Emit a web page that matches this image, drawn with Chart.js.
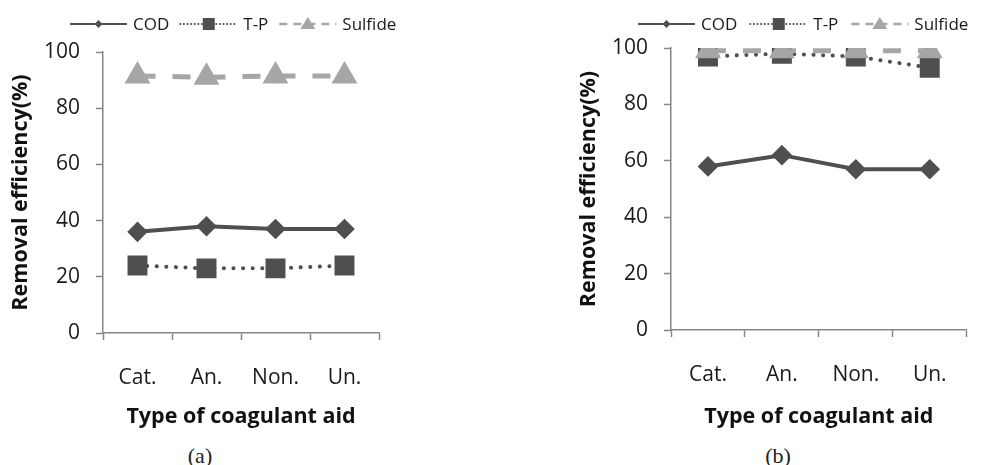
<!DOCTYPE html>
<html>
<head>
<meta charset="utf-8">
<script src="https://cdn.jsdelivr.net/npm/chart.js@4/dist/chart.umd.min.js"></script>
<style>
  html, body { margin: 0; padding: 0; background: #fff; }
  body { width: 982px; height: 465px; position: relative; overflow: hidden; }
  canvas { position: absolute; top: 0; }
  #chartA { left: 0; }
  #chartB { left: 568px; }
  .caption {
    position: absolute; top: 443px; transform: translateX(-50%);
    font-family: "Liberation Serif", "DejaVu Serif", serif; font-size: 22px; color: #222;
  }
</style>
</head>
<body>
<canvas id="chartA" width="400" height="440"></canvas>
<canvas id="chartB" width="414" height="440"></canvas>
<div class="caption" style="left:200px">(a)</div>
<div class="caption" style="left:778px">(b)</div>
<script>
const categories = ['Cat.', 'An.', 'Non.', 'Un.'];
const seriesNames = ['COD', 'T-P', 'Sulfide'];

// (a)
const codA = [36, 38, 37, 37];
const tpA = [24, 23, 23, 24];
const sulfideA = [91.5, 91, 91.5, 91.5];

// (b)
const codB = [58, 62, 57, 57];
const tpB = [97, 98, 97, 93];
const sulfideB = [99, 99, 99, 99];

const yMin = 0, yMax = 100, yStep = 20;

const dark = '#4f4f4f';
const light = '#a6a6a6';
const axisColor = '#868686';
const textColor = '#1a1a1a';
const family = '"Open Sans", "Noto Sans", sans-serif';

// legend drawn by hand: line sample + marker + label
const lineLegend = {
    id: 'lineLegend',
    afterDraw(chart, args, opts) {
        const ctx = chart.ctx;
        const y = 24;
        let x = chart.chartArea.left - 33;
        ctx.save();
        ctx.font = '17px ' + family;
        ctx.textBaseline = 'middle';
        chart.data.datasets.forEach(ds => {
            const len = opts.lineLen;
            ctx.strokeStyle = ds.borderColor;
            ctx.fillStyle = ds.borderColor;
            ctx.lineWidth = ds.legendWidth;
            ctx.lineCap = ds.borderCapStyle || 'butt';
            ctx.setLineDash(ds.legendDash);
            ctx.beginPath();
            ctx.moveTo(x, y);
            ctx.lineTo(x + len, y);
            ctx.stroke();
            ctx.setLineDash([]);

            const cx = x + len / 2;
            ctx.beginPath();
            if (ds.pointStyle === 'rectRot') {
                const r = 4;
                ctx.moveTo(cx, y - r); ctx.lineTo(cx + r, y); ctx.lineTo(cx, y + r); ctx.lineTo(cx - r, y);
            } else if (ds.pointStyle === 'rect') {
                ctx.rect(cx - 6, y - 6, 12, 12);
            } else {
                ctx.moveTo(cx, y - 7); ctx.lineTo(cx + 7.5, y + 5); ctx.lineTo(cx - 7.5, y + 5);
            }
            ctx.closePath();
            ctx.fill();

            ctx.fillStyle = textColor;
            ctx.fillText(ds.label, x + len + 6, y + 1);
            x += len + 6 + ctx.measureText(ds.label).width + opts.gap;
        });
        ctx.restore();
    }
};

function buildDatasets(cod, tp, sulfide) {
    return [
        {
            label: seriesNames[0], data: cod,
            borderColor: dark, backgroundColor: dark, borderWidth: 4,
            pointStyle: 'rectRot', pointRadius: 7.5, pointHoverRadius: 7.5,
            legendDash: [], legendWidth: 2, order: 2
        },
        {
            label: seriesNames[1], data: tp,
            borderColor: dark, backgroundColor: dark, borderWidth: 4,
            borderDash: [0.1, 9.5], borderCapStyle: 'round',
            pointStyle: 'rect', pointRadius: 11.3, pointHoverRadius: 11.3,
            legendDash: [0.1, 3.5], legendWidth: 2, order: 1
        },
        {
            label: seriesNames[2], data: sulfide,
            borderColor: light, backgroundColor: light, borderWidth: 5,
            borderDash: [18, 17],
            pointStyle: 'triangle', pointRadius: 10, pointHoverRadius: 10,
            legendDash: [8, 6], legendWidth: 2.5, order: 0
        }
    ];
}

function makeChart(id, cod, tp, sulfide, area) {
    const ctx = document.getElementById(id).getContext('2d');
    return new Chart(ctx, {
        type: 'line',
        data: { labels: categories, datasets: buildDatasets(cod, tp, sulfide) },
        options: {
            responsive: false,
            animation: false,
            layout: { padding: { top: area.top, right: area.right, left: 0, bottom: 0 } },
            plugins: {
                legend: { display: false },
                tooltip: { enabled: false },
                lineLegend: { lineLen: area.lineLen, gap: area.gap }
            },
            scales: {
                x: {
                    offset: true,
                    grid: { offset: true, drawOnChartArea: false, color: axisColor, tickLength: 7, tickWidth: 1.5 },
                    border: { color: axisColor, width: 1.5 },
                    ticks: { color: textColor, font: { size: 21, family }, padding: 25 },
                    title: {
                        display: true, text: 'Type of coagulant aid', color: '#111',
                        font: { size: 21.5, weight: 'bold', family }, padding: { top: 0, bottom: 10 }
                    },
                    afterFit: s => { s.height = 440 - area.bottom; }
                },
                y: {
                    min: yMin, max: yMax,
                    grid: { drawOnChartArea: false, color: axisColor, tickLength: 7, tickWidth: 1.5 },
                    border: { color: axisColor, width: 1.5 },
                    ticks: { stepSize: yStep, color: textColor, font: { size: 21, family }, padding: 16 },
                    title: {
                        display: true, text: 'Removal efficiency(%)', color: '#111',
                        font: { size: 21.5, weight: 'bold', family }, padding: { top: 8, bottom: 0 }
                    },
                    afterFit: s => { s.width = 103; }
                }
            }
        },
        plugins: [lineLegend]
    });
}

makeChart('chartA', codA, tpA, sulfideA, { top: 52, bottom: 333, right: 21, lineLen: 57, gap: 11 });
makeChart('chartB', codB, tpB, sulfideB, { top: 48, bottom: 330, right: 4, lineLen: 57, gap: 13 });
</script>
</body>
</html>
